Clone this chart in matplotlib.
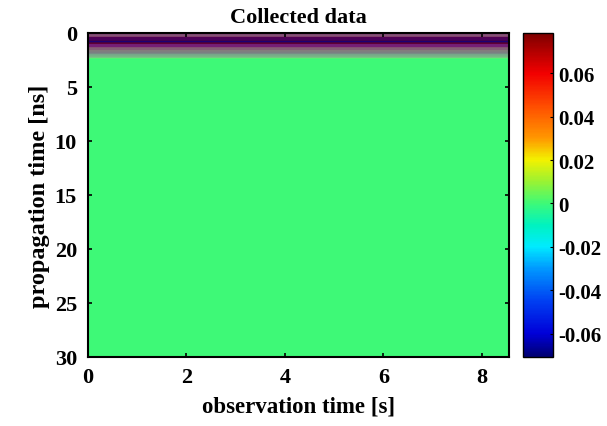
import numpy as np
import matplotlib
matplotlib.use("Agg")
import matplotlib.pyplot as plt
from matplotlib.colors import LinearSegmentedColormap

plt.rcParams['font.family'] = ['Liberation Serif', 'DejaVu Serif']
plt.rcParams['font.weight'] = 'bold'

# trace amplitude vs propagation time (same for every observation time)
# first 2.5 ns sampled every 0.05 ns (strong ringing at the top)
trace_top = [0.070, -0.040, 0.070, -0.040,
             0.055, -0.030, 0.055, -0.030, 0.055,
             -0.064, 0.074, -0.064, 0.074, -0.064, 0.074,
             -0.067, 0.078, -0.067, -0.067, 0.078, -0.067, 0.078,
             0.062, -0.045, 0.062, -0.045, 0.062, -0.045,
             0.050, -0.030, 0.050, -0.030, 0.050,
             -0.030, 0.040, -0.030, 0.040, -0.030, 0.040, -0.030,
             0.032, -0.026, 0.030, -0.025, 0.030, -0.024, 0.028, -0.022,
             0.008, -0.004]
# remaining 2.5 .. 30 ns, sampled every 0.5 ns (flat, near zero)
trace_rest = [0.0, 0.0, 0.0, 0.0, 0.0, 0.0, 0.0, 0.0, 0.0, 0.0,
              0.0, 0.0, 0.0, 0.0, 0.0, 0.0, 0.0, 0.0, 0.0, 0.0,
              0.0, 0.0, 0.0, 0.0, 0.0, 0.0, 0.0, 0.0, 0.0, 0.0,
              0.0, 0.0, 0.0, 0.0, 0.0, 0.0, 0.0, 0.0, 0.0, 0.0,
              0.0, 0.0, 0.0, 0.0, 0.0, 0.0, 0.0, 0.0, 0.0, 0.0,
              0.0, 0.0, 0.0, 0.0, 0.0]

obs_time_max = 8.55  # s
prop_time_max = 30   # ns
vmin, vmax = -0.0707, 0.0785

x_ticks = [0, 2, 4, 6, 8]
y_ticks = [0, 5, 10, 15, 20, 25, 30]
cbar_ticks = [-0.06, -0.04, -0.02, 0, 0.02, 0.04, 0.06]
cbar_labels = ['-0.06', '-0.04', '-0.02', '0', '0.02', '0.04', '0.06']

# jet-like colours as they look in the original figure
cmap_vals = [-0.0707, -0.06, -0.045, -0.03, -0.02, -0.01, 0.0,
             0.01, 0.02, 0.03, 0.045, 0.06, 0.0785]
cmap_cols = [(0.0, 0.0, 0.45), (0.0, 0.0, 0.85), (0.0, 0.25, 0.95),
             (0.0, 0.6, 1.0), (0.0, 0.92, 1.0), (0.0, 0.95, 0.75),
             (0.24, 0.98, 0.47), (0.6, 0.95, 0.2), (0.95, 0.95, 0.0),
             (1.0, 0.6, 0.0), (1.0, 0.3, 0.0), (0.95, 0.0, 0.0),
             (0.5, 0.0, 0.0)]
pos = [(v - vmin) / (vmax - vmin) for v in cmap_vals]
cmap = LinearSegmentedColormap.from_list('jetlike', list(zip(pos, cmap_cols)))

trace = np.concatenate([trace_top, np.repeat(trace_rest, 10)])
data = np.tile(trace[:, None], (1, 4))

fig = plt.figure(figsize=(6.07, 4.27), dpi=100)
ax = fig.add_axes([0.145, 0.1616, 0.6936, 0.7588])
cax = fig.add_axes([0.8616, 0.1616, 0.0494, 0.7588])

im = ax.imshow(data, cmap=cmap, vmin=vmin, vmax=vmax, aspect='auto',
               extent=[0, obs_time_max, prop_time_max, 0],
               interpolation='hanning', interpolation_stage='rgba')

ax.set_xlim(0, obs_time_max)
ax.set_ylim(prop_time_max, 0)
ax.set_xticks(x_ticks)
ax.set_yticks(y_ticks)
ax.tick_params(direction='in', top=True, right=True, labelsize=16, width=1.2, length=3)
ax.tick_params(axis='x', pad=7)
ax.tick_params(axis='y', pad=8)
for s in ax.spines.values():
    s.set_linewidth(1.5)

ax.set_title('Collected data', fontsize=16, fontweight='bold', pad=8)
ax.set_xlabel('observation time [s]', fontsize=16.5, fontweight='bold', labelpad=6)
ax.set_ylabel('propagation time [ns]', fontsize=17.5, fontweight='bold', labelpad=3)

cb = fig.colorbar(im, cax=cax)
cb.set_ticks(cbar_ticks)
cb.set_ticklabels(cbar_labels)
cb.ax.tick_params(direction='in', labelsize=15, length=2)
cb.outline.set_linewidth(1.0)

fig.savefig('out.png', dpi=100)
